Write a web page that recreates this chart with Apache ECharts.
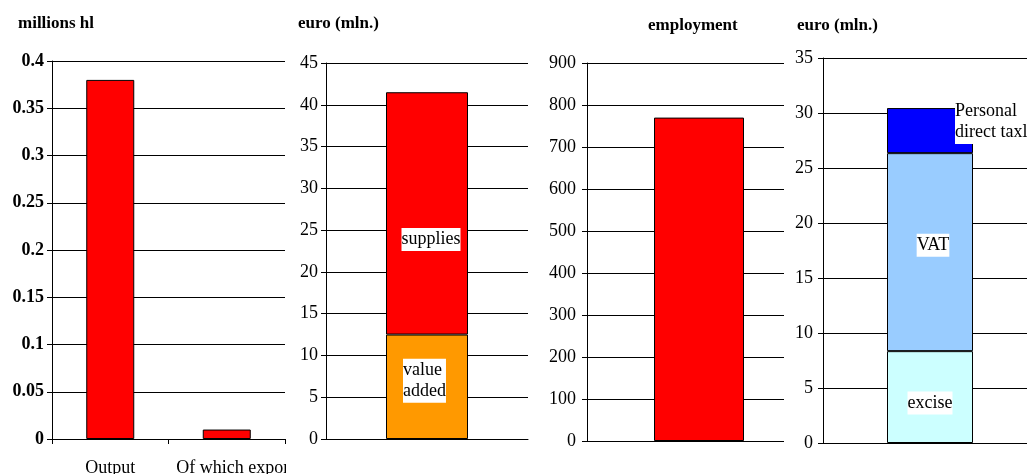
<!DOCTYPE html>
<html>
<head>
<meta charset="utf-8">
<script src="https://cdn.jsdelivr.net/npm/echarts@6/dist/echarts.min.js"></script>
<style>
html,body{margin:0;padding:0;background:#fff;}
#c{width:1027px;height:474px;}
</style>
</head>
<body>
<div id="c"></div>
<script>
// ---- data ----
const panelTitles = ['millions hl', 'euro (mln.)', 'employment', 'euro (mln.)'];
const p1Categories = ['Output', 'Of which exports'];
const p1Values = [0.38, 0.01];
const p2Categories = [''];
const p2ValueAdded = [12.5];
const p2Supplies = [29.0];
const p3Categories = [''];
const p3Employment = [770];
const p4Categories = [''];
const p4Excise = [8.35];
const p4VAT = [18.0];
const p4Personal = [4.1];
const p2Labels = ['value\nadded', 'supplies'];
const p4Labels = ['excise', 'VAT', 'Personal\ndirect taxl'];

const FONT = '"Liberation Serif", "Times New Roman", serif';
const black = '#000';

function yAx(gi, max, interval, bold, margin, z) {
  return {
    type: 'value', gridIndex: gi, min: 0, max: max, interval: interval, z: z || 0,
    axisLine: {show: true, lineStyle: {color: black, width: 1}},
    axisTick: {show: true, length: 5, lineStyle: {color: black}},
    axisLabel: {color: black, fontFamily: FONT, fontSize: 18, fontWeight: bold ? 'bold' : 'normal', margin: margin},
    splitLine: {show: true, lineStyle: {color: black, width: 1}}
  };
}
function xAx(gi, cats, showLabels, z) {
  return {
    type: 'category', gridIndex: gi, data: cats, z: z || 0,
    axisLine: {show: true, lineStyle: {color: black, width: 1}},
    axisTick: {show: showLabels, length: 5, inside: false, lineStyle: {color: black}},
    axisLabel: {
      show: showLabels, color: black, fontFamily: FONT, fontSize: 18, margin: 20, interval: 0,
      formatter: (v, i) => i === 1 ? '{e|' + v + '}' : v,
      rich: {e: {fontFamily: FONT, fontSize: 18, color: black, padding: [0, 0, 0, 24]}}
    }
  };
}
const labelBase = {fontFamily: FONT, fontSize: 18, color: black, backgroundColor: '#fff', padding: [1, 0, 1, 0], lineHeight: 21};
const barItem = c => ({color: c, borderColor: black, borderWidth: 1});
const titleStyle = {fontFamily: FONT, fontSize: 17, fontWeight: 'bold', color: black};

const option = {
  animation: false,
  backgroundColor: '#fff',
  title: [
    {text: panelTitles[0], left: 18, top: 15, padding: 0, textStyle: titleStyle},
    {text: panelTitles[1], left: 298, top: 15, padding: 0, textStyle: titleStyle},
    {text: panelTitles[2], left: 648, top: 17, padding: 0, textStyle: titleStyle},
    {text: panelTitles[3], left: 797, top: 17, padding: 0, textStyle: titleStyle}
  ],
  grid: [
    {left: 52, top: 61, width: 233, height: 378, outerBoundsMode: 'none'},
    {left: 326, top: 63, width: 202, height: 376, outerBoundsMode: 'none'},
    {left: 587, top: 63, width: 224, height: 378, outerBoundsMode: 'none'},
    {left: 823, top: 58, width: 214, height: 385, outerBoundsMode: 'none'}
  ],
  xAxis: [
    xAx(0, p1Categories, true, 0),
    xAx(1, p2Categories, false, 0),
    xAx(2, p3Categories, false, 0),
    xAx(3, p4Categories, false, 4)
  ],
  yAxis: [
    yAx(0, 0.4, 0.05, true, 8, 0),
    yAx(1, 45, 5, false, 8, 0),
    yAx(2, 900, 100, false, 11, 0),
    yAx(3, 35, 5, false, 10, 4)
  ],
  graphic: [
    {type: 'rect', z: 3, shape: {x: 784, y: 0, width: 38.5, height: 474}, style: {fill: '#fff'}},
    {type: 'rect', z: 3, shape: {x: 286, y: 446, width: 40, height: 28}, style: {fill: '#fff'}}
  ],
  series: [
    {type: 'bar', xAxisIndex: 0, yAxisIndex: 0, data: p1Values, barWidth: 48, itemStyle: barItem('#ff0000')},
    {type: 'bar', xAxisIndex: 1, yAxisIndex: 1, stack: 'p2', data: p2ValueAdded, barWidth: 82, itemStyle: barItem('#ff9900'),
      label: Object.assign({show: true, position: 'inside', offset: [-24, -6], align: 'left', formatter: () => p2Labels[0]}, labelBase)},
    {type: 'bar', xAxisIndex: 1, yAxisIndex: 1, stack: 'p2', data: p2Supplies, barWidth: 82, itemStyle: barItem('#ff0000'),
      label: Object.assign({show: true, position: 'inside', offset: [4, 26], formatter: () => p2Labels[1]}, labelBase)},
    {type: 'bar', xAxisIndex: 2, yAxisIndex: 2, data: p3Employment, barWidth: 90, itemStyle: barItem('#ff0000')},
    {type: 'bar', xAxisIndex: 3, yAxisIndex: 3, stack: 'p4', data: p4Excise, barWidth: 86, z: 5, itemStyle: barItem('#ccffff'),
      label: Object.assign({show: true, position: 'inside', offset: [0, 6], formatter: () => p4Labels[0]}, labelBase)},
    {type: 'bar', xAxisIndex: 3, yAxisIndex: 3, stack: 'p4', data: p4VAT, barWidth: 86, z: 5, itemStyle: barItem('#99ccff'),
      label: Object.assign({show: true, position: 'inside', offset: [3, -7], formatter: () => p4Labels[1]}, labelBase)},
    {type: 'bar', xAxisIndex: 3, yAxisIndex: 3, stack: 'p4', data: p4Personal, barWidth: 86, z: 5, itemStyle: barItem('#0000ff'),
      label: Object.assign({show: true, position: [68, -8], align: 'left', verticalAlign: 'top', formatter: () => p4Labels[2]}, labelBase)}
  ]
};
const chart = echarts.init(document.getElementById('c'), null, {renderer: 'canvas'});
chart.setOption(option);
</script>
</body>
</html>
